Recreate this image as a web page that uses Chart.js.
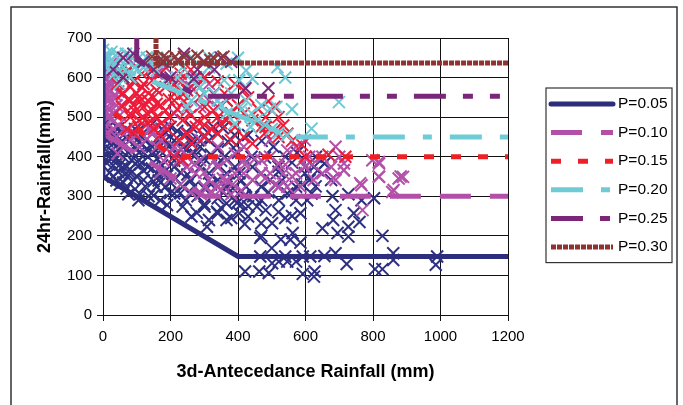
<!DOCTYPE html>
<html>
<head>
<meta charset="utf-8">
<title>Rainfall thresholds</title>
<script src="https://cdn.jsdelivr.net/npm/chart.js@4"></script>
<style>
  html, body { margin: 0; padding: 0; background: #fff; }
  #wrap { position: relative; width: 683px; height: 405px; }
</style>
</head>
<body>
<div id="wrap"><canvas id="rainChart" width="683" height="405"></canvas></div>
<script>
// --- observed events: [3-day antecedent rainfall (mm), 24hr rainfall (mm)] ---
const navyPts = [
  [0,480],[8,470],[18,476],[30,468],[45,472],[95,470],[140,478],[200,475],[262,475],[327,475],[355,472],
  [4,458],[17,458],[60,455],[81,458],[120,452],[185,460],[240,455],[300,450],[340,458],[390,455],
  [12,440],[30,433],[56,440],[100,442],[146,425],[185,441],[211,441],[236,425],[262,440],[314,441],[370,438],
  [5,420],[25,415],[48,420],[81,416],[107,410],[130,420],[170,415],[220,410],[262,408],[288,425],[340,420],[400,410],
  [0,400],[17,400],[40,395],[60,400],[85,392],[107,391],[133,400],[160,395],[211,390],[236,391],[300,395],[360,400],[417,391],[440,400],[480,398],
  [10,385],[30,378],[50,380],[70,375],[95,382],[133,374],[175,378],[211,374],[288,374],[340,374],[391,374],[443,374],[520,375],[560,385],
  [20,360],[45,362],[65,355],[81,358],[100,350],[120,365],[159,358],[190,352],[230,360],[314,358],[366,358],[404,358],[469,358],[520,362],[598,358],[625,374],
  [40,340],[60,335],[90,342],[120,341],[150,338],[200,335],[260,340],[340,341],[370,335],[495,341],[612,341],[676,341],[637,366],[656,383],[631,400],
  [70,320],[95,318],[125,325],[159,324],[185,324],[236,324],[300,320],[366,324],[424,324],[469,324],[521,324],[572,324],[630,325],
  [110,305],[150,302],[199,308],[211,307],[229,308],[280,300],[340,295],[391,290],[420,302],[469,290],[521,290],[546,307],[572,290],[605,290],[618,307],[680,300],[727,305],[766,290],[803,295],
  [190,278],[236,274],[278,258],[301,274],[338,261],[366,282],[397,283],[430,275],[456,274],[482,265],[585,257],[689,265],[743,257],[520,260],
  [262,249],[314,240],[340,257],[366,240],[404,257],[430,249],[469,232],[501,232],[682,240],[420,230],[540,245],[560,250],[760,235],
  [308,223],[466,195],[469,200],[527,191],[555,190],[562,207],[585,183],[650,219],[695,207],[727,198],[727,223],[828,200],
  [466,148],[500,169],[501,131],[521,135],[540,148],[546,135],[572,135],[592,148],[614,148],[656,149],[689,156],[722,129],[860,139],[860,156],[990,148],[986,127],
  [421,110],[463,110],[491,106],[592,104],[627,110],[625,97],[806,116],[828,116],
  [15,445],[35,452],[52,462],[70,448],[88,455],[110,470],[125,440],[160,445],[175,470],[220,465],[250,460],[280,445],[310,462],
  [60,425],[75,410],[95,425],[115,430],[150,410],[195,425],[250,420],[275,405],[320,405],[350,390],[25,395],[55,370],[80,368],
  [110,380],[145,370],[165,340],[180,360],[215,345],[250,355],[270,325],[320,330],[355,310],[385,320],[410,340],[30,350],
  [50,330],[75,305],[105,290],[135,300],[170,290],[245,290],[300,280],[350,270],[380,245],[410,280],[445,300],[490,310],
  [530,340],[560,310],[590,330],[600,375],[575,410],[540,400],[505,425],[470,440],[430,455],[395,430]
];
const magentaPts = [
  [0,650],[3,635],[8,620],[12,605],[2,590],[6,575],[10,560],[15,545],[4,530],[9,515],[14,500],[0,485],[5,470],
  [20,640],[25,615],[18,590],[22,565],[28,540],[20,520],[26,495],[30,470],[35,600],[38,555],[33,510],[40,450],
  [45,480],[50,620],[55,530],[0,560],[0,510],[0,610],[12,460],
  [5,455],[15,520],[25,580],[32,625],[10,650],[40,530],[30,590],[45,565],[8,545],[18,500],[50,505],
  [766,328],[798,391],[818,349],[818,383],[876,345],[889,349],[857,311],[769,265],[689,425],[714,383],[689,341],
  [714,366],[676,374],[598,442],[611,400],[572,358],[585,324],[546,324],[521,324],[495,358],[469,358],[443,341],
  [417,358],[469,391],[495,400],[521,383],[495,442],[546,416],[572,425],[598,374],[624,341],[650,358],[534,358],
  [417,391],[366,391],[340,374],[314,341],[301,324],[340,324],[366,341],[391,358],[275,358],[249,374],[225,391],
  [288,391],[211,425],[172,442],[146,458],[107,425],[81,442],[56,433],[43,408],[185,475],[249,458],[288,442],
  [340,425],[391,408],[417,425],[211,509],[249,517],[288,526],[314,542],[340,526],[366,542],[262,576],[236,593],
  [211,584],[159,610],[120,626],[81,643],[43,651],[146,643],[185,626],[275,601],[314,584],
  [260,310],[290,305],[320,312],[350,318],[380,305],[410,315],[230,330],[200,345],[170,360],
  [817,387],[817,350],[882,350],[762,333],[861,316],[683,346],[713,366],
  [270,380],[300,360],[330,390],[355,345],[385,330],[420,380],[450,395],[480,345],[510,330],[540,380],[560,350],
  [590,390],[620,380],[650,400],[700,400],[250,400],[230,420],[200,410],[160,425],[130,445],[100,455],[70,465],
  [180,390],[140,470]
];
const redPts = [
  [482,475],[508,467],[546,458],[534,479],[469,475],[508,526],[417,568],[391,584],[366,542],[327,517],[301,500],
  [275,475],[249,458],[225,442],[262,433],[301,450],[340,458],[379,442],[417,450],[443,433],[391,475],[366,492],
  [417,509],[340,500],[288,551],[236,559],[211,542],[185,517],[159,500],[133,484],[107,492],[81,509],[56,526],
  [81,542],[107,551],[133,542],[159,568],[120,584],[81,576],[56,559],[43,584],[68,610],
  [94,593],[146,593],[185,576],[211,559],[225,593],[81,500],[120,526],[146,517],[159,534],[443,492],[482,500],
  [301,526],[249,526],[198,500],[236,492],[327,559],[249,568],[172,484],[211,400],[236,391],[718,400],[668,405],
  [100,560],[110,540],[90,530],[120,500],[130,510],[140,490],[60,600],[75,620],[600,400],
  [60,560],[75,545],[95,515],[115,575],[135,560],[150,550],[170,530],[195,545],[220,520],[240,540],[260,505],[280,490],
  [300,480],[320,470],[350,485],[380,510],[400,530],[430,550],[460,520],[490,540],[520,500],[70,470],[90,460],
  [105,475],[150,470],[170,455],[190,470],[200,590],[170,610],[140,620],[115,610],[90,590],[280,580],[300,600],[340,590],
  [360,560],[260,620],[230,610],[480,460],[560,440],[590,430],[520,450]
];
const cyanPts = [
  [262,651],[236,626],[288,601],[314,626],[359,593],[404,593],[424,618],[443,597],[366,635],[314,651],[262,593],
  [469,530],[495,521],[514,526],[424,542],[391,484],[437,475],[456,492],[366,509],[340,542],[301,559],[262,542],
  [249,526],[288,576],[236,568],[185,593],[159,618],[120,626],[618,471],[699,538],[517,626],
  [17,651],[43,660],[68,643],[94,626],[81,601],[56,610],[30,634],[107,651],[17,618],[49,584],[68,660],
  [0,670],[10,660],[130,650],[5,640],
  [25,665],[50,645],[80,655],[100,620],[115,640],[35,610],[60,625],[12,630],[140,630],[160,650],[190,640],[220,600],
  [330,560],[350,530],[380,560],[410,520],[440,510],[480,480],[500,470],[520,460],[545,455],[560,520],[540,600],[400,650]
];
const purplePts = [
  [490,573],[422,573],[269,597],[300,640],[330,620],[350,650],[120,640],[90,660],[200,600],[280,620],[60,650],
  [150,620],[240,660],[180,640],[380,640],[60,600],[30,620]
];
const brownPts = [
  [145,653],[175,640],[179,653],[214,653],[223,640],[297,640],[318,644],[357,653],[260,648],
  [190,648],[240,652],[280,655],[330,648]
];

// --- exceedance probability threshold curves ---
const thresholdNames = ['P=0.05', 'P=0.10', 'P=0.15', 'P=0.20', 'P=0.25', 'P=0.30'];
const thresholdPaths = [
  [[0,700],[0,350],[400,148],[1200,148]],
  [[0,700],[0,460],[300,300],[1200,300]],
  [[0,700],[0,530],[210,400],[1200,400]],
  [[0,700],[0,640],[560,450],[1200,450]],
  [[100,700],[100,645],[280,553],[1200,553]],
  [[157,700],[157,637],[1200,637]]
];
const thresholdColors = ['#2c2d7c', '#b24fa8', '#ee2026', '#6fcbd6', '#7a2679', '#8f3232'];
const thresholdDashes = [[], [31,19], [10,17], [32,18,9,18], [32,17,10,17,10,17], [5,1]];

const xTicks = { min: 0, max: 1200, step: 200 };
const yTicks = { min: 0, max: 700, step: 100 };

const FONT = "'Liberation Sans', Arial, sans-serif";
const toXY = (pts) => pts.map(([x, y]) => ({ x, y }));

const scatterSet = (pts, color, order) => ({
  type: 'scatter',
  data: toXY(pts),
  pointStyle: 'crossRot',
  pointRadius: 8.5,
  pointBorderWidth: 2,
  borderColor: color,
  backgroundColor: color,
  showLine: false,
  order
});

const datasets = thresholdNames.map((name, i) => ({
  type: 'line',
  label: name,
  isThreshold: true,
  data: toXY(thresholdPaths[i]),
  borderColor: thresholdColors[i],
  borderDash: thresholdDashes[i],
  borderWidth: 5,
  pointRadius: 0,
  tension: 0,
  fill: false,
  order: 0
}));

datasets.push(
  scatterSet(navyPts, '#2e3082', 6),
  scatterSet(magentaPts, '#b450aa', 5),
  scatterSet(redPts, '#ec1c3a', 4),
  scatterSet(cyanPts, '#6ccad5', 3),
  scatterSet(purplePts, '#7a2a7a', 2),
  scatterSet(brownPts, '#8c3a3a', 1)
);

// outer frame plus the boxed legend on the right
const framePlugin = {
  id: 'frameAndLegend',
  beforeDraw(chart) {
    const ctx = chart.ctx;
    ctx.save();
    ctx.fillStyle = '#fff';
    ctx.fillRect(0, 0, chart.width, chart.height);
    ctx.strokeStyle = '#333';
    ctx.lineWidth = 1.5;
    ctx.strokeRect(11, 7, 666, 430);
    ctx.restore();
  },
  afterDraw(chart) {
    const ctx = chart.ctx;
    const area = chart.chartArea;
    const lines = chart.data.datasets.filter(d => d.isThreshold);
    const boxL = area.right + 38, boxT = 88, boxW = 126, rowH = 28.6;
    const boxH = rowH * lines.length + 3;
    ctx.save();
    ctx.strokeStyle = '#333';
    ctx.lineWidth = 1.2;
    ctx.strokeRect(boxL, boxT, boxW, boxH);
    ctx.font = `15.5px ${FONT}`;
    ctx.textBaseline = 'middle';
    ctx.fillStyle = '#000';
    lines.forEach((ds, i) => {
      const y = boxT + 16 + i * rowH;
      ctx.beginPath();
      ctx.setLineDash(ds.borderDash || []);
      ctx.strokeStyle = ds.borderColor;
      ctx.lineWidth = ds.borderWidth;
      ctx.lineCap = i === 0 ? 'round' : 'butt';
      ctx.moveTo(boxL + 5, y);
      ctx.lineTo(boxL + 67, y);
      ctx.stroke();
      ctx.fillText(ds.label, boxL + 72, y);
    });
    ctx.restore();
  }
};

new Chart(document.getElementById('rainChart'), {
  type: 'scatter',
  data: { datasets },
  plugins: [framePlugin],
  options: {
    responsive: false,
    animation: false,
    devicePixelRatio: 1,
    events: [],
    layout: { padding: { left: 0, top: 38, right: 175, bottom: 0 } },
    plugins: { legend: { display: false }, tooltip: { enabled: false } },
    scales: {
      x: {
        type: 'linear',
        min: xTicks.min, max: xTicks.max,
        ticks: { stepSize: xTicks.step, color: '#000', font: { family: FONT, size: 15 }, padding: 7, maxRotation: 0, callback: (v) => String(v) },
        grid: { color: '#111', lineWidth: 1, tickLength: 6 },
        border: { color: '#111', width: 1 },
        title: {
          display: true, text: '3d-Antecedance Rainfall (mm)', color: '#000',
          font: { family: FONT, size: 18, weight: 'bold' }, padding: { top: 0, bottom: 22 }
        },
        afterFit: (scale) => { scale.height = 90; }
      },
      y: {
        type: 'linear',
        min: yTicks.min, max: yTicks.max,
        ticks: { stepSize: yTicks.step, color: '#000', font: { family: FONT, size: 15 }, padding: 5, callback: (v) => String(v) },
        grid: { color: '#111', lineWidth: 1, tickLength: 6 },
        border: { color: '#111', width: 1 },
        title: {
          display: true, text: '24hr-Rainfall(mm)', color: '#000',
          font: { family: FONT, size: 18, weight: 'bold' }, padding: { top: 34, bottom: 0 }
        },
        afterFit: (scale) => { scale.width = 103; }
      }
    }
  }
});
</script>
</body>
</html>
